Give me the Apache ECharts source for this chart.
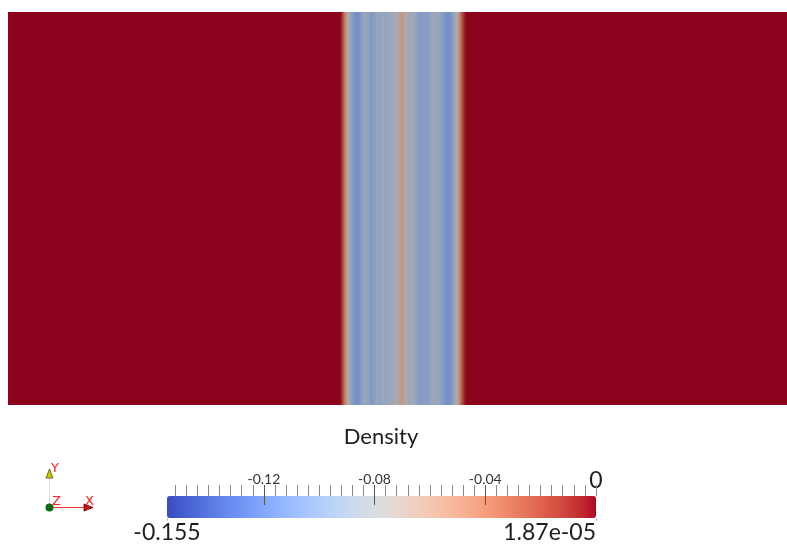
<!DOCTYPE html>
<html><head><meta charset="utf-8">
<script src="https://cdn.jsdelivr.net/npm/echarts@6/dist/echarts.min.js"></script>
<style>html,body{margin:0;padding:0;background:#fff}#c{width:787px;height:548px}</style>
</head><body><div id="c"></div><script>
// Density profile across the domain (x position, density value)
const positions = [0,
  332,333,334,335,336,337,338,339,340,341,342,343,344,345,
  347,349,351,
  354,357,360,363,366,369,372,375,378,381,384,387,390,
  392,394,396,398,
  401,404,407,410,413,416,419,422,425,428,431,434,437,440,443,
  445,446,447,448,449,450,451,452,453,454,455,456,457,458,459,
  779];
const densityValues = [0,
  0,-0.004,-0.012,-0.022,-0.033,-0.044,-0.055,-0.065,-0.074,-0.082,-0.089,-0.095,-0.1,-0.104,
  -0.11,-0.112,-0.11,
  -0.098,-0.09,-0.095,-0.105,-0.1,-0.092,-0.095,-0.09,-0.095,-0.088,-0.09,-0.085,-0.072,
  -0.062,-0.058,-0.066,-0.08,
  -0.088,-0.085,-0.092,-0.1,-0.104,-0.1,-0.102,-0.095,-0.088,-0.09,-0.092,-0.1,-0.108,-0.112,-0.108,
  -0.1,-0.095,-0.088,-0.08,-0.072,-0.063,-0.053,-0.043,-0.033,-0.024,-0.016,-0.009,-0.004,-0.001,0,
  0];
const domainMin = 0, domainMax = 779;
const colorbarMin = -0.155, colorbarMax = 0.0000187;
const majorTickValues = [-0.12, -0.08, -0.04];
const majorTickLabels = ['-0.12', '-0.08', '-0.04'];
const minorTickValues = [-0.152,-0.148,-0.144,-0.14,-0.136,-0.132,-0.128,-0.124,-0.12,-0.116,-0.112,-0.108,-0.104,-0.1,
  -0.096,-0.092,-0.088,-0.084,-0.08,-0.076,-0.072,-0.068,-0.064,-0.06,-0.056,-0.052,-0.048,-0.044,-0.04,
  -0.036,-0.032,-0.028,-0.024,-0.02,-0.016,-0.012,-0.008,-0.004,0];
const topEndLabels = ['0'];
const endLabels = ['-0.155', '1.87e-05'];
const titleText = 'Density';

// Cool to Warm colormap
const coolWarm = [[59,76,192],[68,90,204],[77,104,215],[87,117,225],[98,130,234],[108,142,241],[119,154,247],
  [130,165,251],[141,176,254],[152,185,255],[163,194,255],[174,201,253],[184,208,249],[194,213,244],[204,217,238],
  [213,219,230],[221,221,221],[229,216,209],[236,211,197],[241,204,185],[245,196,173],[247,187,160],[247,177,148],
  [247,166,135],[244,154,123],[241,141,111],[236,127,99],[229,112,88],[222,96,77],[213,80,66],[203,62,56],
  [192,40,47],[180,4,38]];
const toHex = (c, k) => '#' + c.map(v => Math.round(v * k).toString(16).padStart(2, '0')).join('');
const barColors = coolWarm.map(c => toHex(c, 1));
const shadedColors = coolWarm.map(c => toHex(c, 0.775));

const segments = positions.map((p, i) => {
  const x0 = i === 0 ? domainMin : (positions[i - 1] + p) / 2;
  const x1 = i === positions.length - 1 ? domainMax : (p + positions[i + 1]) / 2;
  return [x0, x1, densityValues[i]];
});

const font = 'Lato';
const barRect = {left: 167, top: 496, width: 429, height: 22};
// one grid per colorbar axis so that every axis keeps its own position
const barGridCount = 5;
const grids = [{left: 8, top: 12, width: 779, height: 393}];
for (let i = 0; i < barGridCount; i++) grids.push(Object.assign({}, barRect));
const yAxes = grids.map((g, i) => ({gridIndex: i, type: 'value', min: 0, max: 1, show: false}));
const barAxis = (gi, extra) => Object.assign({gridIndex: gi, type: 'value', min: colorbarMin, max: colorbarMax,
  axisLine: {show: false, onZero: false}, splitLine: {show: false}}, extra);

const chart = echarts.init(document.getElementById('c'), null, {renderer: 'canvas'});
chart.setOption({
  animation: false,
  backgroundColor: '#ffffff',
  title: {text: titleText, left: 381, top: 426, padding: 0, textAlign: 'center',
    textStyle: {fontFamily: font, fontSize: 22, fontWeight: 'normal', color: '#1e1e1e'}},
  grid: grids,
  xAxis: [
    {gridIndex: 0, type: 'value', min: domainMin, max: domainMax, show: false},
    barAxis(1, {position: 'top', z: 10,
      axisTick: {show: true, interval: 0, customValues: minorTickValues, length: 11, lineStyle: {color: '#8a8a8a', width: 1}},
      axisLabel: {show: false}}),
    barAxis(2, {position: 'top', offset: -9, z: 11,
      axisTick: {show: true, interval: 0, customValues: majorTickValues, length: 20, lineStyle: {color: '#555', width: 1}},
      axisLabel: {show: true, interval: 0, customValues: majorTickValues, margin: 19,
        formatter: v => majorTickLabels[majorTickValues.findIndex(t => Math.abs(t - v) < 1e-9)],
        fontFamily: font, fontSize: 14, color: '#333'}}),
    barAxis(3, {position: 'top',
      axisTick: {show: false},
      axisLabel: {show: true, customValues: [colorbarMax], formatter: () => topEndLabels[0], margin: 4,
        fontFamily: font, fontSize: 23, color: '#1e1e1e'}}),
    barAxis(4, {position: 'bottom', z: 10,
      axisTick: {show: true, interval: 0, customValues: [colorbarMin, colorbarMax], length: 3, lineStyle: {color: '#c9b8cf', width: 1}},
      axisLabel: {show: true, customValues: [colorbarMin], formatter: () => endLabels[0], margin: 3,
        fontFamily: font, fontSize: 23, color: '#1e1e1e'}}),
    barAxis(5, {position: 'bottom',
      axisTick: {show: false},
      axisLabel: {show: true, customValues: [colorbarMax], formatter: () => endLabels[1], margin: 3, align: 'right',
        fontFamily: font, fontSize: 23, color: '#1e1e1e'}})
  ],
  yAxis: yAxes,
  visualMap: [
    {type: 'continuous', seriesIndex: 0, dimension: 2, min: colorbarMin, max: colorbarMax, show: false,
      inRange: {color: shadedColors}},
    {type: 'continuous', seriesIndex: 1, min: colorbarMin, max: colorbarMax, show: true, z: 1,
      orient: 'horizontal', left: 167, top: 496, itemWidth: 22, itemHeight: 429, padding: 0,
      calculable: false, hoverLink: false, text: null, inRange: {color: barColors}}
  ],
  series: [
    {type: 'custom', xAxisIndex: 0, yAxisIndex: 0, data: segments, encode: {x: [0, 1]},
      renderItem: (params, api) => {
        const a = api.coord([api.value(0), 1]);
        const b = api.coord([api.value(1), 0]);
        return {type: 'rect', shape: {x: a[0], y: a[1], width: b[0] - a[0] + 0.6, height: b[1] - a[1]},
          style: {fill: api.visual('color')}};
      }},
    {type: 'scatter', xAxisIndex: 1, yAxisIndex: 1, data: []}
  ],
  graphic: [
    {type: 'line', shape: {x1: 49.5, y1: 507, x2: 49.5, y2: 474}, style: {stroke: '#f0f040', lineWidth: 1}},
    {type: 'polygon', shape: {points: [[46, 478], [53, 478], [49.5, 469]]}, style: {fill: '#c8c800', stroke: '#505000', lineWidth: 0.8}},
    {type: 'line', shape: {x1: 50, y1: 507.5, x2: 86, y2: 507.5}, style: {stroke: '#ff3030', lineWidth: 1}},
    {type: 'polygon', shape: {points: [[84, 504], [84, 511], [93, 507.5]]}, style: {fill: '#d01010', stroke: '#600000', lineWidth: 0.8}},
    {type: 'circle', shape: {cx: 49.5, cy: 507.5, r: 4}, style: {fill: '#0b6b12'}},
    {type: 'text', x: 51, y: 462, style: {text: 'Y', fill: '#ff2020', font: '13px DejaVu Sans'}},
    {type: 'text', x: 52, y: 495, style: {text: 'Z', fill: '#ff2020', font: '13px DejaVu Sans'}},
    {type: 'text', x: 85, y: 495, style: {text: 'X', fill: '#ff2020', font: '13px DejaVu Sans'}}
  ]
});
</script></body></html>
